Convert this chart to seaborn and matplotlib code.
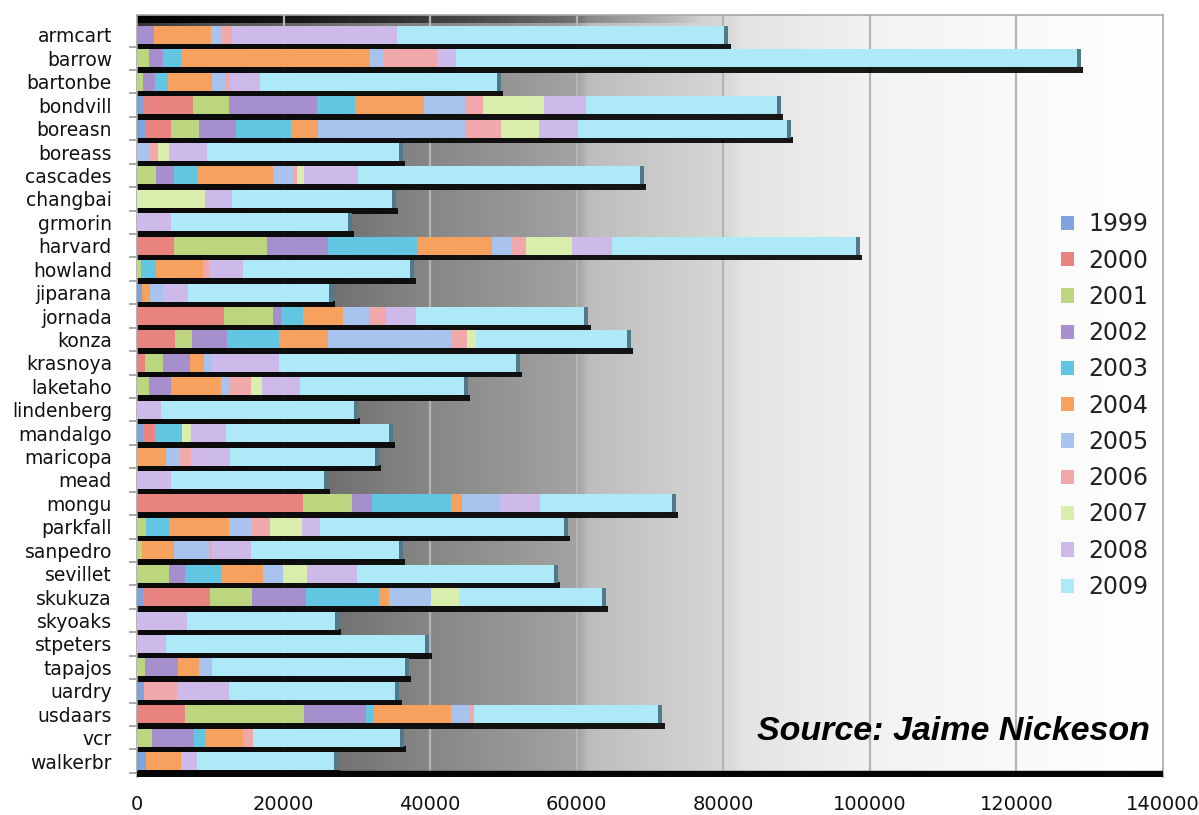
import numpy as np
import pandas as pd
import matplotlib
matplotlib.use("Agg")
import matplotlib.pyplot as plt
from matplotlib.patches import Patch
import seaborn as sns

sites = ["armcart", "barrow", "bartonbe", "bondvill", "boreasn", "boreass", "cascades",
         "changbai", "grmorin", "harvard", "howland", "jiparana", "jornada", "konza",
         "krasnoya", "laketaho", "lindenberg", "mandalgo", "maricopa", "mead", "mongu",
         "parkfall", "sanpedro", "sevillet", "skukuza", "skyoaks", "stpeters", "tapajos",
         "uardry", "usdaars", "vcr", "walkerbr"]

years = ["1999", "2000", "2001", "2002", "2003", "2004", "2005", "2006", "2007", "2008", "2009"]

y1999 = [0, 0, 0, 1000, 1200, 0, 0, 0, 0, 0, 0, 700, 0, 0, 0, 0, 0, 800, 0, 0, 0, 0, 0, 0, 800, 0, 0, 0, 900, 0, 0, 1200]
y2000 = [0, 0, 0, 6700, 3400, 0, 0, 0, 0, 5100, 0, 0, 11900, 5200, 1100, 0, 0, 1600, 0, 0, 22600, 0, 0, 0, 9200, 0, 0, 0, 0, 6500, 0, 0]
y2001 = [0, 1700, 800, 4800, 3800, 0, 2600, 0, 0, 12600, 500, 0, 6600, 2300, 2400, 1600, 0, 0, 0, 0, 6800, 1200, 700, 4400, 5700, 0, 0, 1100, 0, 16300, 2000, 0]
y2002 = [2300, 1800, 1600, 12100, 5100, 0, 2500, 0, 0, 8400, 0, 0, 1100, 4800, 3800, 3100, 0, 0, 0, 0, 2700, 0, 0, 2100, 7300, 0, 0, 4500, 0, 8400, 5800, 0]
y2003 = [0, 2700, 1800, 5200, 7500, 0, 3200, 0, 0, 12300, 2100, 0, 3000, 7100, 0, 0, 0, 3700, 0, 0, 10800, 3100, 0, 5000, 10000, 0, 0, 0, 0, 1200, 1500, 0]
y2004 = [7800, 25600, 6000, 9400, 3700, 0, 10300, 0, 0, 10100, 6400, 1100, 5500, 6600, 1900, 6800, 0, 0, 4000, 0, 1400, 8200, 4300, 5700, 1400, 0, 0, 2900, 0, 10500, 5100, 4800]
y2005 = [1500, 1800, 1800, 5500, 20000, 1800, 2700, 0, 0, 2500, 0, 1800, 3700, 16900, 1000, 1000, 0, 0, 1900, 0, 5200, 3200, 4800, 2700, 5700, 0, 0, 1800, 0, 2400, 0, 0]
y2006 = [1400, 7400, 700, 2500, 5000, 1000, 600, 0, 0, 2100, 800, 0, 2200, 2100, 0, 3100, 0, 0, 1500, 0, 0, 2500, 500, 0, 0, 0, 0, 0, 4500, 700, 1400, 0]
y2007 = [0, 0, 0, 8400, 5200, 1600, 900, 9300, 0, 6200, 0, 0, 0, 1200, 0, 1500, 0, 1300, 0, 0, 0, 4300, 0, 3300, 3800, 0, 0, 0, 0, 0, 0, 0]
y2008 = [22500, 2500, 4100, 5700, 5300, 5200, 7400, 3700, 4600, 5500, 4700, 3400, 4100, 0, 9200, 5200, 3300, 4700, 5300, 4600, 5500, 2500, 5300, 6800, 0, 6800, 4000, 0, 7100, 0, 0, 2200]
y2009 = [45200, 85300, 32900, 26600, 29000, 26700, 39000, 22300, 24700, 33800, 23300, 19700, 23500, 21200, 32900, 22900, 26800, 22800, 20300, 21500, 18500, 33800, 20700, 27400, 20100, 20700, 35900, 26800, 23300, 25700, 20600, 19200]

colors = ["#7fa3dc", "#e8837f", "#bcd67f", "#a58fcc", "#62c6e2", "#f6a15e",
          "#a9c3ef", "#f0a8aa", "#d9eeac", "#cdb9ea", "#aee9f7"]

xticks = [0, 20000, 40000, 60000, 80000, 100000, 120000, 140000]

series = [y1999, y2000, y2001, y2002, y2003, y2004, y2005, y2006, y2007, y2008, y2009]
values = np.array(series, dtype=float)          # years x sites
cum = np.cumsum(values, axis=0)
totals = cum[-1]
pos = np.arange(len(sites))

sns.set_style("white")
plt.rcParams["font.family"] = ["DejaVu Sans"]

fig = plt.figure(figsize=(11.99, 8.15), dpi=100)
fig.patch.set_facecolor("white")
ax = fig.add_axes([137 / 1199, 1 - 777 / 815, (1163 - 137) / 1199, (777 - 15) / 815])

# shaded backdrop: dark on the left, fading to white on the right
t = np.linspace(0, 1, 600)
g = np.interp(t, [0, 0.08, 0.25, 0.43, 0.44, 0.58, 0.59, 0.72, 0.86, 1.0],
              [0.20, 0.33, 0.50, 0.64, 0.74, 0.85, 0.89, 0.95, 0.98, 1.0])
bg = np.stack([g, g, g], axis=-1)[None, :, :].repeat(2, axis=0)
ax.imshow(bg, extent=(0, 1, 0, 1), transform=ax.transAxes, aspect="auto",
          zorder=0, interpolation="bilinear")

# dark top rim fading out to the right
a = np.clip(1 - t / 0.55, 0, 1) ** 0.8
rim = np.zeros((2, 600, 4))
rim[..., 3] = a[None, :]
ax.imshow(rim, extent=(0, 1, 1 - 8 / 762, 1), transform=ax.transAxes, aspect="auto",
          zorder=1, interpolation="bilinear")

for xv in xticks[1:-1]:
    ax.axvline(xv, color="#b4b4b4", lw=1.6, zorder=1)

# bar depth shadows filling the gap under each bar
ax.barh(pos + 0.5, totals + 300, height=0.25, color="#050505", alpha=0.92, zorder=2,
        linewidth=0)

# stacked bars: cumulative totals, drawn from the outermost year inward
long = pd.DataFrame({"site": np.tile(sites, len(years)),
                     "year": np.repeat(years, len(sites)),
                     "cum": cum.ravel()})
for k in range(len(years) - 1, -1, -1):
    sub = long[long["year"] == years[k]]
    sns.barplot(data=sub, x="cum", y="site", orient="h", color=colors[k],
                saturation=1, width=0.77, ax=ax, zorder=3, linewidth=0)

# end caps
ax.barh(pos, 550, left=totals - 550, height=0.77, color="#4f7a8c", zorder=4, linewidth=0)

# bottom rim
ax.axhspan(31.43, 31.68, color="#050505", zorder=4)

ax.set_xlim(0, 140000)
ax.set_ylim(31.68, -0.85)
ax.set_xticks(xticks)
ax.set_xticklabels([str(v) for v in xticks], fontsize=14, color="#111111")
ax.set_yticks(pos)
ax.set_yticklabels(sites, fontsize=13.5, color="#111111")
ax.set_yticks(pos + 0.5, minor=True)
ax.tick_params(axis="x", length=0, pad=13)
ax.tick_params(axis="y", which="major", length=0, pad=18)
ax.tick_params(axis="y", which="minor", length=6, color="#9a9a9a", width=1.2, left=True)
ax.set_xlabel("")
ax.set_ylabel("")
for side in ["left", "top", "right"]:
    ax.spines[side].set_color("#a8a8a8")
    ax.spines[side].set_linewidth(1.2)
ax.spines["bottom"].set_visible(False)

handles = [Patch(facecolor=c, edgecolor="none") for c in colors]
leg = fig.legend(handles, years, loc="upper left", bbox_to_anchor=(1040 / 1199, 1 - 191 / 815),
                 frameon=False, fontsize=17, handlelength=0.55, handleheight=0.55,
                 handletextpad=0.6, labelspacing=0.52)
for txt in leg.get_texts():
    txt.set_color("#222222")

fig.text(953 / 1199, 1 - 731 / 815, "Source: Jaime Nickeson", ha="center", va="center",
         fontsize=24.5, fontweight="bold", fontstyle="italic", family="Liberation Sans",
         color="black")

fig.savefig("out.png", dpi=100)
